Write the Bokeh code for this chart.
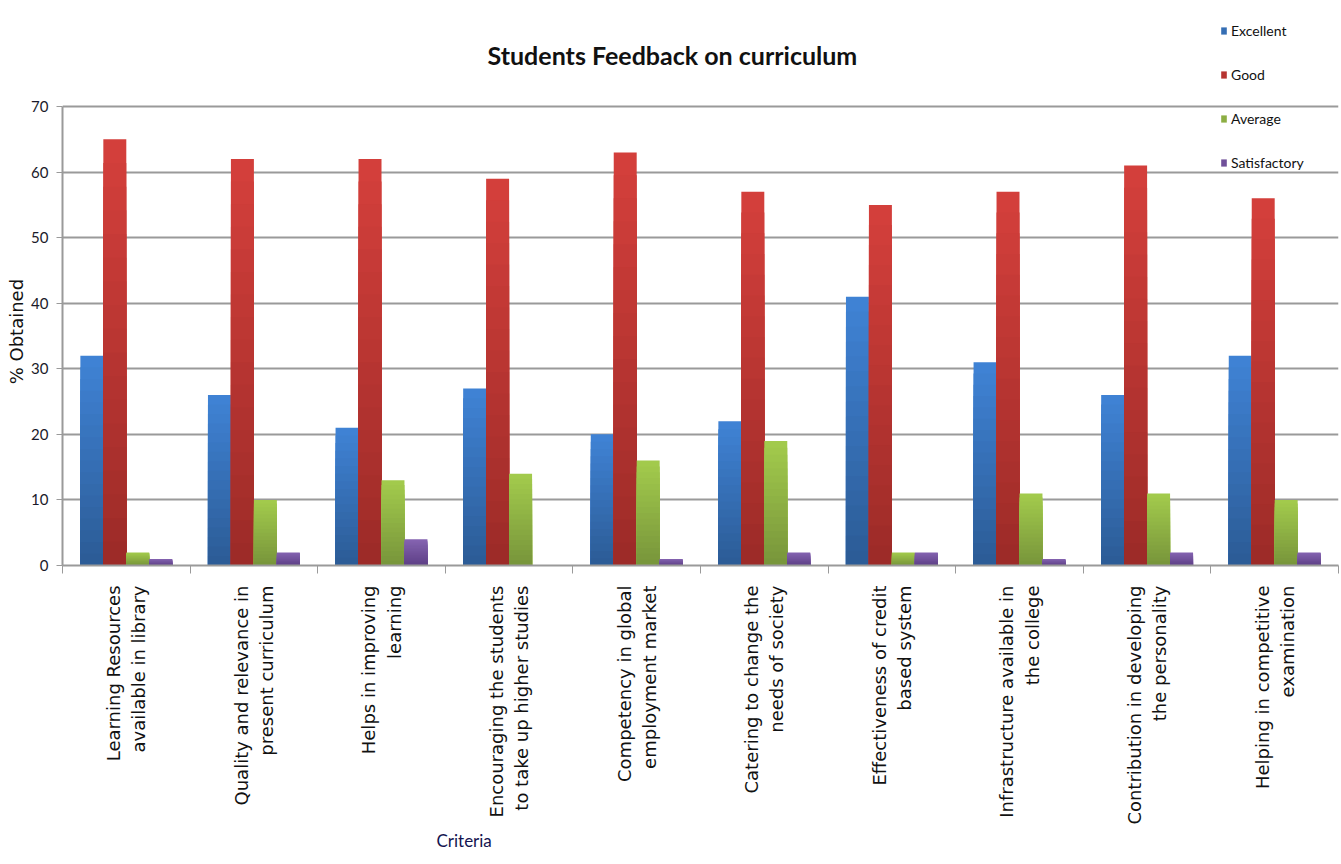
import math
from bokeh.plotting import figure
from bokeh.models import Range1d, FixedTicker, Label, Legend, LegendItem, Title
from bokeh.embed import file_html
from bokeh.resources import INLINE

categories = [
    "Learning Resources\navailable in library",
    "Quality and relevance in\npresent curriculum",
    "Helps in improving\nlearning",
    "Encouraging the students\nto take up higher studies",
    "Competency in global\nemployment market",
    "Catering to change the\nneeds of society",
    "Effectiveness of credit\nbased system",
    "Infrastructure available in\nthe college",
    "Contribution in developing\nthe personality",
    "Helping in competitive\nexamination",
]
series_names = ["Excellent", "Good", "Average", "Satisfactory"]
excellent = [32, 26, 21, 27, 20, 22, 41, 31, 26, 32]
good = [65, 62, 62, 59, 63, 57, 55, 57, 61, 56]
average = [2, 10, 13, 14, 16, 19, 2, 11, 11, 10]
satisfactory = [1, 2, 4, 0, 1, 2, 2, 1, 2, 2]
y_ticks = [0, 10, 20, 30, 40, 50, 60, 70]

series_values = [excellent, good, average, satisfactory]
# (top colour, bottom colour) for each series' vertical gradient
series_colors = [
    ("#3F82D4", "#2B5A93"),
    ("#D33F3B", "#9A2A27"),
    ("#A2CA4C", "#76933A"),
    ("#8463B0", "#5C3E84"),
]
offsets = [-0.27, -0.09, 0.09, 0.27]
bar_w = 0.18

UI = "Lato"

# frame reaches the top of the canvas so that title and legend sit inside it;
# the y axis itself is bounded to 0..70
p = figure(width=1341, height=864, x_range=Range1d(0, 10), y_range=Range1d(0, 86.17),
           output_backend="svg", toolbar_location=None,
           min_border_left=62, min_border_right=3, min_border_top=0, min_border_bottom=299)
p.outline_line_color = None
p.background_fill_color = "white"
p.border_fill_color = "white"


def hex_to_rgb(h):
    h = h.lstrip("#")
    return tuple(int(h[i:i + 2], 16) for i in (0, 2, 4))


def lerp(c1, c2, t):
    a, b = hex_to_rgb(c1), hex_to_rgb(c2)
    return "#%02x%02x%02x" % tuple(round(a[i] + (b[i] - a[i]) * t) for i in range(3))


N = 18
legend_items = []
xs_base = [i + 0.5 for i in range(len(categories))]
for s, vals in enumerate(series_values):
    top_c, bot_c = series_colors[s]
    xs = [x + offsets[s] for x in xs_base]
    mid_r = None
    for k in range(N):
        frac = (N - k) / N
        col = lerp(bot_c, top_c, frac)
        r = p.vbar(x=xs, top=[v * frac for v in vals], bottom=0, width=bar_w,
                   fill_color=col, line_color=None)
        if k == N // 2:
            mid_r = r
    legend_items.append(LegendItem(label=series_names[s], renderers=[mid_r]))

# axes
p.xgrid.visible = False
p.ygrid.grid_line_color = "#9A9A9A"
p.ygrid.grid_line_width = 2

yax = p.yaxis[0]
yax.ticker = FixedTicker(ticks=y_ticks)
yax.bounds = (y_ticks[0], y_ticks[-1])
yax.axis_line_color = "#9A9A9A"
yax.axis_line_width = 2
yax.major_tick_line_color = "#9A9A9A"
yax.major_tick_out = 6
yax.major_tick_in = 0
yax.minor_tick_line_color = None
yax.major_label_text_font = UI
yax.major_label_text_font_size = "15px"
yax.major_label_text_color = "#1a1a2a"
yax.major_label_standoff = 8
# non-breaking spaces keep the label centred on the 0..70 part of the axis
yax.axis_label = "% Obtained" + "\u00a0" * 17
yax.axis_label_text_font = "DejaVu Sans"
yax.axis_label_text_font_style = "normal"
yax.axis_label_text_font_size = "18px"
yax.axis_label_text_color = "#111111"
yax.axis_label_standoff = 1

xax = p.xaxis[0]
xax.ticker = FixedTicker(ticks=xs_base, minor_ticks=list(range(len(categories) + 1)))
xax.major_label_overrides = {xs_base[i]: categories[i] for i in range(len(categories))}
xax.major_tick_line_color = None
xax.minor_tick_line_color = "#9A9A9A"
xax.minor_tick_out = 8
xax.minor_tick_in = 0
xax.axis_line_color = "#9A9A9A"
xax.axis_line_width = 2
xax.major_label_orientation = math.pi / 2
xax.major_label_text_font = "DejaVu Sans"
xax.major_label_text_font_size = "18px"
xax.major_label_text_color = "#111111"
xax.major_label_standoff = 12

# x axis title, placed below the tick labels
p.add_layout(Title(text="Criteria", align="left", offset=374, standoff=0,
                   text_font=UI, text_font_size="17px", text_font_style="normal",
                   text_color="#141450"), "below")

# chart title
p.add_layout(Label(x=4.78, y=77.8, text="Students Feedback on curriculum",
                   text_font=UI, text_font_style="bold", text_font_size="25px",
                   text_align="center", text_baseline="middle", text_color="#111111"))

legend = Legend(items=legend_items, location=(1158, 393), orientation="vertical",
                padding=0, margin=0, spacing=24, glyph_width=7, glyph_height=9,
                label_height=20, label_standoff=4, border_line_color=None,
                background_fill_alpha=0, label_text_font=UI,
                label_text_font_size="14px", label_text_color="#111111")
p.add_layout(legend)

open("out.html", "w").write(file_html(p, INLINE))
